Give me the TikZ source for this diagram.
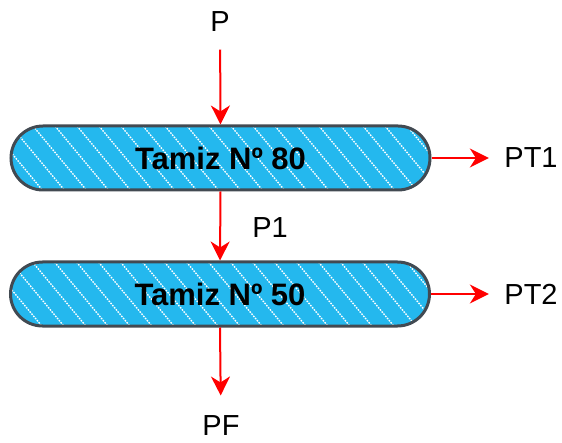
\documentclass[tikz,border=0pt]{standalone}
\usepackage{fontspec}
\setmainfont{Liberation Sans}
\usetikzlibrary{arrows.meta}

\definecolor{tamizblue}{RGB}{36,184,238}
\definecolor{tamizedge}{RGB}{66,74,82}

\tikzset{
  tamiz/.style={draw=tamizedge,line width=3pt,fill=tamizblue,
    rounded corners=32pt,minimum width=419pt,minimum height=64pt,
    font=\fontsize{31}{36}\selectfont\bfseries,
    path picture={
      \foreach \i in {-5,...,21}
        \draw[white,line width=1.4pt,dash pattern=on 1.6pt off 1.2pt]
          ([xshift=\i*22pt]path picture bounding box.north west) -- ++(70pt,-84pt);
    }},
  lbl/.style={font=\fontsize{29}{34}\selectfont},
  flow/.style={draw=red,line width=2pt,-{Stealth[length=19pt,width=19pt,inset=6pt]}}
}

\begin{document}
\begin{tikzpicture}[x=1pt,y=1pt]
     \useasboundingbox (0,0) rectangle (562,442);

     % sieves
     \node[tamiz] (t80) at (220.5,284) {Tamiz Nº 80};
     \node[tamiz] (t50) at (220,148) {Tamiz Nº 50};

     % streams
     \node[lbl] (p)   at (220,420) {P};
     \node[lbl] (p1)  at (270,214) {P1};
     \node[lbl] (pt1) at (531,284) {PT1};
     \node[lbl] (pt2) at (531,148) {PT2};
     \node[lbl] (pf)  at (221,16)  {PF};

     % feed
     \draw[flow,shorten <=14pt] (p) -- (t80.north);
     % pass through 80
     \draw[flow] (t80.south) -- (t50.north);
     % retained
     \draw[flow,shorten >=12pt] (t80.east) -- (pt1);
     \draw[flow,shorten >=12pt] (t50.east) -- (pt2);
     % fines
     \draw[flow,shorten >=17pt] (t50.south) -- (pf);
\end{tikzpicture}
\end{document}
